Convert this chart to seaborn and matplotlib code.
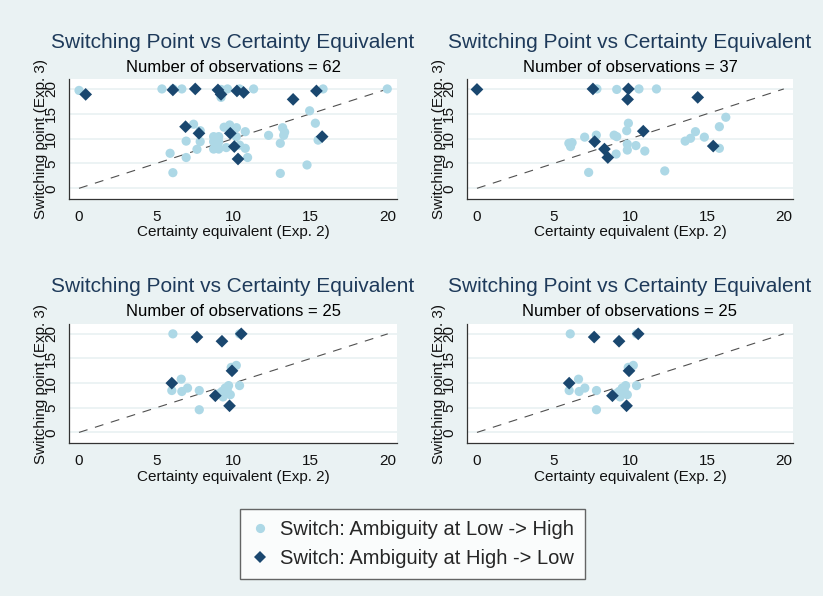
import matplotlib
matplotlib.use("Agg")
import matplotlib.pyplot as plt
import pandas as pd
import seaborn as sns

LOW = "Switch: Ambiguity at Low -> High"
HIGH = "Switch: Ambiguity at High -> Low"

# Panel 1 (N = 62)
p1_low_x = [0.0, 5.37, 6.66, 9.62, 10.4, 11.31, 15.81, 19.97, 9.2, 14.94, 15.31, 7.42,
            9.76, 9.4, 10.2, 10.77, 7.85, 6.94, 7.85, 7.64, 6.94, 5.9, 6.08, 8.72,
            9.05, 8.72, 9.05, 8.72, 9.05, 8.9, 9.54, 10.4, 10.77, 10.92, 10.19, 12.28,
            13.19, 13.32, 13.26, 13.04, 15.49, 14.77, 13.04, 9.0, 8.8, 6.1, 9.2]
p1_low_y = [19.7, 20.0, 20.0, 20.0, 20.0, 20.0, 20.0, 20.0, 18.3, 15.6, 13.1, 12.9,
            12.75, 12.3, 12.2, 11.4, 11.6, 9.5, 9.4, 7.85, 6.2, 7.05, 3.15, 10.4,
            10.4, 9.4, 9.4, 7.9, 7.9, 8.7, 8.2, 8.7, 8.05, 6.2, 10.4, 10.66,
            12.2, 11.3, 10.66, 9.06, 9.7, 4.7, 3.0, 9.0, 8.2, 20.0, 19.9]
p1_high_x = [0.43, 6.08, 7.53, 9.0, 9.2, 10.23, 10.66, 13.87, 15.38, 6.9, 7.77, 9.8,
             10.06, 10.3, 15.75]
p1_high_y = [18.9, 19.8, 20.0, 19.8, 18.9, 19.6, 19.3, 17.9, 19.6, 12.4, 11.07, 11.07,
             8.4, 5.9, 10.4]

# Panel 2 (N = 37)
p2_low_x = [7.82, 9.11, 10.56, 11.7, 9.87, 9.76, 8.94, 9.11, 7.78, 7.02, 5.99, 6.2,
            6.1, 9.8, 9.8, 10.36, 9.07, 10.94, 7.28, 12.24, 16.22, 15.8, 14.24, 13.92,
            13.57, 14.82, 15.8]
p2_low_y = [20.0, 19.9, 20.0, 20.0, 13.1, 11.6, 10.7, 10.4, 10.7, 10.3, 9.06, 9.2,
            8.4, 8.9, 7.7, 8.6, 6.9, 7.5, 3.2, 3.5, 14.3, 12.4, 11.4, 10.07,
            9.5, 10.3, 8.05]
p2_high_x = [0.0, 7.56, 9.87, 9.82, 14.39, 10.84, 7.67, 8.31, 8.53, 15.4]
p2_high_y = [19.9, 20.0, 20.0, 17.9, 18.3, 11.5, 9.4, 7.9, 6.2, 8.5]

# Panels 3 and 4 (N = 25, identical)
p3_low_x = [6.08, 10.4, 10.19, 9.86, 6.62, 7.03, 6.66, 6.01, 7.79, 9.69, 10.4, 9.47,
            9.26, 9.33, 9.8, 7.79, 9.6, 9.0]
p3_low_y = [20.0, 20.0, 13.6, 13.2, 10.8, 9.0, 8.3, 8.5, 8.5, 9.5, 9.5, 9.0,
            8.3, 7.2, 7.65, 4.6, 8.6, 7.8]
p3_high_x = [7.64, 9.26, 10.51, 9.91, 6.01, 8.83, 9.75]
p3_high_y = [19.35, 18.5, 20.0, 12.5, 10.0, 7.44, 5.4]

panels = [
    (p1_low_x, p1_low_y, p1_high_x, p1_high_y),
    (p2_low_x, p2_low_y, p2_high_x, p2_high_y),
    (p3_low_x, p3_low_y, p3_high_x, p3_high_y),
    (p3_low_x, p3_low_y, p3_high_x, p3_high_y),
]

TITLE = "Switching Point vs Certainty Equivalent"
XLABEL = "Certainty equivalent (Exp. 2)"
YLABEL = "Switching point (Exp. 3)"
TICKS = [0, 5, 10, 15, 20]

BG = "#EAF2F3"
sns.set_style("white")
plt.rcParams["font.family"] = ["Liberation Sans", "DejaVu Sans"]

W, H = 823, 596
fig = plt.figure(figsize=(W / 100, H / 100), dpi=100, facecolor=BG)


def fx(x):
    return x / W


def fy(y):
    return 1 - y / H


# axes boxes in pixels: (left, top, right, bottom)
boxes = [(69, 79, 397, 199), (467, 79, 793, 199), (69, 324, 397, 443), (467, 324, 793, 443)]
title_y = [(43, 68), (43, 68), (287, 311), (287, 311)]

handles = labels = None
for i, ((lx, ly, hx, hy), (l, t, r, b)) in enumerate(zip(panels, boxes)):
    ax = fig.add_axes([fx(l), fy(b), (r - l) / W, (b - t) / H])
    ax.set_facecolor("white")
    df = pd.DataFrame({
        "ce": list(lx) + list(hx),
        "sp": list(ly) + list(hy),
        "group": [LOW] * len(lx) + [HIGH] * len(hx),
    })
    sns.scatterplot(data=df, x="ce", y="sp", hue="group", style="group", size="group",
                    hue_order=[LOW, HIGH], style_order=[LOW, HIGH], size_order=[LOW, HIGH],
                    palette={LOW: "#ADD8E6", HIGH: "#1A476F"},
                    markers={LOW: "o", HIGH: "D"}, sizes={LOW: 44, HIGH: 42},
                    linewidth=0, ax=ax, legend=(i == 0), zorder=3)
    if i == 0:
        h, lab = ax.get_legend_handles_labels()
        pairs = [(hh, ll) for hh, ll in zip(h, lab) if ll in (LOW, HIGH)]
        handles = [p[0] for p in pairs]
        labels = [p[1] for p in pairs]
        ax.get_legend().remove()
    ax.plot([0, 20], [0, 20], color="#505050", lw=0.8, linestyle=(0, (8, 7)), zorder=2)
    ax.set_xlim(-0.65, 20.6)
    ax.set_ylim(-2.15, 22.0)
    ax.set_xticks(TICKS)
    ax.set_yticks(TICKS)
    ax.yaxis.grid(True, color=BG, lw=1.3, zorder=0)
    ax.xaxis.grid(False)
    ax.set_axisbelow(True)
    for s in ("top", "right"):
        ax.spines[s].set_visible(False)
    for s in ("left", "bottom"):
        ax.spines[s].set_color("#333333")
        ax.spines[s].set_linewidth(0.9)
    ax.tick_params(axis="both", direction="out", length=4, width=0.8, color="#333333",
                   labelsize=11, labelcolor="#111111")
    ax.tick_params(axis="x", pad=4)
    ax.tick_params(axis="y", pad=4)
    for tl in ax.get_yticklabels():
        tl.set_rotation(90)
        tl.set_va("center")
    ax.set_xlabel(XLABEL, fontsize=11, color="#111111", labelpad=1)
    ax.set_ylabel(YLABEL, fontsize=11, color="#111111")
    ax.yaxis.set_label_coords(-0.064, 0.5)
    cx = (l + r) / 2
    ty, sy = title_y[i]
    n = len(lx) + len(hx)
    fig.text(fx(cx), fy(ty), TITLE, ha="center", va="center", fontsize=15, color="#1E3A5A")
    fig.text(fx(cx), fy(sy), f"Number of observations = {n}", ha="center", va="center",
             fontsize=12, color="black")

leg = fig.legend(handles, labels, loc="center", bbox_to_anchor=(fx(412.5), fy(544)),
                 frameon=True, fancybox=False, edgecolor="#404040", facecolor="white",
                 fontsize=14.5, handletextpad=0.6, borderpad=0.55, labelspacing=0.5,
                 handlelength=0.8, borderaxespad=0)
leg.get_frame().set_linewidth(1.0)

fig.savefig("out.png", dpi=100, facecolor=BG)
